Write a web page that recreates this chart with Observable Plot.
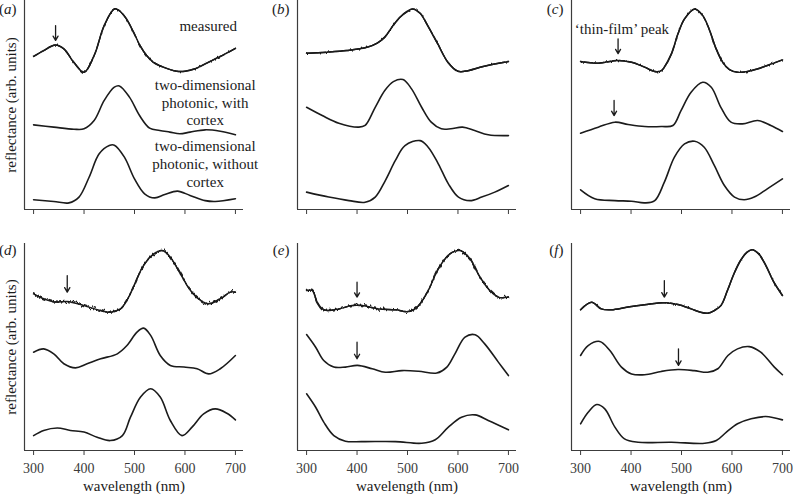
<!DOCTYPE html>
<html>
<head>
<meta charset="utf-8">
<script src="https://cdn.jsdelivr.net/npm/d3@7"></script>
<script src="https://cdn.jsdelivr.net/npm/@observablehq/plot@0.6"></script>
<style>
  html, body { margin: 0; padding: 0; background: #fff; }
  #chart { position: relative; width: 793px; height: 495px; overflow: hidden; background: #fff; }
  #chart svg, #chart svg text, #chart svg tspan {
    font-family: "Liberation Serif", "Times New Roman", "DejaVu Serif", serif !important;
  }
</style>
</head>
<body>
<div id="chart"></div>
<script>
// ---------- shared axis data ----------
const xTicks = [300, 400, 500, 600, 700];
const xDomain = [282, 716];
const yTitle = "reflectance (arb. units)";
const xTitle = "wavelength (nm)";
const panelLetters = ["a", "b", "c", "d", "e", "f"];

// ---------- curves: [wavelength nm, reflectance arb. units] ----------
// (a)
const a_measured = [[300,74],[320,76.8],[343,79.5],[360,77.6],[380,71],[400,66.3],[420,74.4],[440,88.9],[460,96.9],[471,95.9],[484,92.1],[498,85.7],[511,79.2],[524,74.4],[537,71.2],[557,68.8],[584,66.8],[600,66.8],[620,68],[640,70.4],[660,72.8],[680,75.2],[700,77.9]];
const a_with = [[300,40.9],[340,39.8],[380,38.8],[400,39],[420,43],[440,52.7],[460,59.1],[470,59.7],[490,54.3],[510,45.4],[530,39.3],[550,38.2],[570,37.4],[590,36.6],[610,37.4],[640,38.5],[670,37.8],[700,36.1]];
const a_without = [[300,4.7],[340,3.9],[370,3.2],[390,6],[410,15.6],[430,26.9],[450,30.9],[460,31.1],[480,25.3],[500,14.8],[520,7.6],[540,5.6],[560,7.2],[585,8.9],[610,6.8],[640,4.3],[660,3.9],[700,5.2]];
// (b)
const b_measured = [[300,75.5],[340,76],[380,76.8],[420,78.4],[440,80.4],[455,83.3],[470,88.4],[485,92.9],[500,95.8],[510,96.9],[525,94.8],[540,88.9],[560,80],[580,71.2],[600,66.8],[620,67.1],[650,69.1],[700,71.5]];
const b_with = [[300,49.4],[331,45.4],[364,41.7],[403,39.8],[416,40.6],[436,49.4],[455,57.5],[472,61.8],[491,62.8],[508,58.3],[528,49.4],[547,42.2],[567,39],[586,39],[609,39.8],[633,38.2],[660,36.1],[700,35.7]];
const b_without = [[300,8.4],[344,6],[384,4.3],[416,3.5],[436,6],[456,14],[476,23.7],[495,30.9],[525,33.3],[541,30.1],[561,22.1],[581,12.4],[601,6],[624,4.3],[647,6],[673,8.4],[700,11.6]];
// (c)
const c_measured = [[300,71.5],[335,70.7],[374,72],[401,71.2],[427,68.8],[447,66.7],[460,67.1],[466,68.8],[480,75.2],[493,84.9],[506,92.1],[526,96.9],[542,93.7],[555,87],[568,78],[582,71],[595,67.6],[611,66.3],[638,67.1],[670,69.6],[700,72.3]];
const c_with = [[300,36.9],[335,39.8],[368,42.2],[394,41.1],[427,40.1],[460,40.1],[483,40.6],[499,47.8],[519,56.7],[542,61.5],[559,59.1],[578,49.4],[598,42.2],[621,41.4],[651,43],[677,40.6],[700,37.7]];
const c_without = [[300,9.5],[328,5.2],[368,4.3],[401,4],[427,3.2],[447,4.3],[466,13.2],[486,25.3],[506,31.7],[526,33],[545,30.1],[565,21.3],[585,11.6],[605,6],[624,4.7],[644,6],[670,10],[700,14.8]];
// (d)
const d_measured = [[300,75.7],[320,73.3],[344,71.7],[367,72],[400,70],[433,67.6],[452,66.8],[472,68.4],[485,72.5],[499,79.7],[518,89.4],[538,95],[555,96.6],[571,93.4],[591,85.3],[611,77.3],[631,72.5],[647,70.9],[670,73.3],[690,76.5],[700,76.5]];
const d_with = [[300,47.5],[320,49.1],[340,46.7],[360,41.9],[383,39.9],[406,41.9],[433,44.3],[466,46.7],[485,50.7],[505,57.2],[518,59.1],[532,55.6],[551,45.9],[571,41.1],[598,40.3],[624,39.5],[647,37],[670,39.5],[700,45.9]];
const d_without = [[300,7.2],[320,9.7],[347,10.9],[373,9.7],[400,8.9],[426,6.4],[452,4.8],[476,7.2],[492,16.1],[512,25.8],[532,29.8],[551,25.8],[571,14.5],[594,7.2],[614,11.3],[637,17.7],[660,20.1],[683,18],[700,14.8]];
// (e)
const e_measured = [[300,77.3],[311,77.3],[321,71.7],[331,68.4],[341,67.6],[364,68.4],[390,70],[410,70],[443,68.4],[476,68],[502,67.1],[522,70],[541,77.3],[561,87.8],[584,95],[604,96.6],[624,92.6],[640,85.3],[660,78.1],[680,74.1],[700,74.1]];
const e_with = [[300,56],[318,49.9],[334,43.5],[354,40.3],[377,40.3],[401,41.1],[430,39.5],[456,37.8],[489,38.6],[522,38.3],[558,37.4],[578,40.3],[594,46.7],[614,54.8],[634,55.9],[653,51.5],[680,42.7],[700,36.2]];
const e_without = [[300,27.4],[318,20.9],[334,13.7],[354,7.2],[377,4.5],[410,4.3],[476,4.3],[528,3.5],[555,5.2],[581,11.3],[607,16.1],[634,17.2],[660,14.5],[700,10]];
// (f)
const f_measured = [[300,68],[322,71.6],[341,68.4],[361,68],[394,69.3],[427,70.4],[466,71.4],[493,70.5],[519,68.4],[538,66.8],[552,66.3],[565,67.6],[578,70],[591,77.3],[604,85.4],[617,91.8],[630,95.8],[640,97],[653,95],[667,89.4],[683,81.3],[700,74.9]];
const f_with = [[300,45.9],[315,50.7],[338,52.7],[358,48.3],[381,40.3],[401,37],[427,36.6],[460,38.2],[493,39.1],[525,38.6],[552,37.8],[572,39.5],[592,45.9],[611,49.1],[634,50.2],[657,47.5],[684,40.3],[700,36.6]];
const f_without = [[300,12.9],[315,18.5],[332,22.2],[348,20.1],[368,11.3],[387,5.6],[414,4],[480,4],[546,3.5],[569,4.8],[589,8.9],[611,12.9],[638,15.3],[667,16.4],[700,14.8]];

// ---------- arrows: [wavelength, from, to] ----------
const a_arrows = [[343.6, 88.9, 81.7]];
const c_arrows = [[374.3, 82.5, 75.3], [366.4, 52.7, 45.4]];
const d_arrows = [[366.7, 84.5, 76.5]];
const e_arrows = [[400, 81.3, 74.1], [400, 52.3, 44.3]];
const f_arrows = [[466, 82.1, 74.1], [494, 49.1, 41.1]];

// ---------- annotations ----------
const a_notes = [
  {nm: 646, v: 86.5, text: "measured"},
  {nm: 640, v: 40.6, text: "two-dimensional\nphotonic, with\ncortex"},
  {nm: 640, v: 11.1, text: "two-dimensional\nphotonic, without\ncortex"}
];
const c_notes = [{nm: 382, v: 84.9, text: "\u2018thin-film\u2019 peak"}];

const panels = [
  {measured: a_measured, withC: a_with, withoutC: a_without, arrows: a_arrows, notes: a_notes, noise: 3},
  {measured: b_measured, withC: b_with, withoutC: b_without, arrows: [], notes: [], noise: 2.5},
  {measured: c_measured, withC: c_with, withoutC: c_without, arrows: c_arrows, notes: c_notes, noise: 2.5},
  {measured: d_measured, withC: d_with, withoutC: d_without, arrows: d_arrows, notes: [], noise: 7},
  {measured: e_measured, withC: e_with, withoutC: e_without, arrows: e_arrows, notes: [], noise: 6.5},
  {measured: f_measured, withC: f_with, withoutC: f_without, arrows: f_arrows, notes: [], noise: 2}
];

// ---------- styling / layout ----------
const FONT = "'Liberation Serif', 'Times New Roman', 'DejaVu Serif', serif";
const AX = "#3c3c3c";
const INK = "#1b1b1b";
const colLeft = [0, 273, 547];
const rowTop = [0, 230];

const chart = document.getElementById("chart");

panels.forEach((p, i) => {
  const col = i % 3, row = Math.floor(i / 3);
  const top = row === 0;
  const lineOpts = {x: d => d[0], y: d => d[1], curve: "catmull-rom", stroke: INK, strokeWidth: 1.6};
  const marks = [
    Plot.ruleX([xDomain[0]], {stroke: AX, strokeWidth: 1.2}),
    Plot.ruleY([0], {stroke: AX, strokeWidth: 1.2}),
    Plot.line(p.withC, lineOpts),
    Plot.line(p.withoutC, lineOpts),
    Plot.line(p.measured, {...lineOpts, strokeWidth: 1.5}),
    Plot.arrow(p.arrows, {x1: d => d[0], x2: d => d[0], y1: d => d[1], y2: d => d[2], stroke: INK, strokeWidth: 1.3, headLength: 6}),
    Plot.text([panelLetters[i]], {frameAnchor: "top-left", dx: -8, dy: top ? 13 : 11, textAnchor: "end", lineAnchor: "bottom", fontSize: 15, fill: INK}),
    Plot.text(p.notes, {x: "nm", y: "v", text: "text", textAnchor: "middle", lineAnchor: "bottom", lineHeight: 1.17, fontSize: 15, fill: INK})
  ];
  if (col === 0) marks.push(Plot.text([yTitle], {frameAnchor: "left", dx: -9, rotate: -90, textAnchor: "middle", lineAnchor: "bottom", fontSize: 15, fill: INK}));
  if (!top) marks.push(Plot.text([xTitle], {frameAnchor: "bottom", dy: 40, textAnchor: "middle", lineAnchor: "bottom", fontSize: 15, fill: INK}));

  const svg = Plot.plot({
    width: 250,
    height: top ? 230 : 265,
    marginLeft: 24,
    marginRight: 7,
    marginTop: top ? 0 : 13,
    marginBottom: top ? 21 : 45,
    style: {fontFamily: FONT, fontSize: "14px", color: AX, background: "transparent", overflow: "visible"},
    x: {domain: xDomain, ticks: xTicks, tickSize: 5, tickPadding: 8, tickFormat: top ? () => "" : d => String(d), label: null},
    y: {domain: [0, top ? 101 : 100], axis: null},
    marks
  });
  svg.style.position = "absolute";
  svg.style.left = colLeft[col] + "px";
  svg.style.top = rowTop[row] + "px";
  svg.style.maxWidth = "none";
  svg.setAttribute("font-family", FONT);

  // noise texture for the measured spectrum: vertical-only jitter merged with the line itself
  const fid = "noise" + i;
  const defs = d3.select(svg).insert("defs", ":first-child");
  const filt = defs.append("filter").attr("id", fid)
    .attr("x", "-5%").attr("y", "-15%").attr("width", "110%").attr("height", "130%");
  filt.append("feTurbulence").attr("type", "fractalNoise").attr("baseFrequency", "0.55 0.06")
    .attr("numOctaves", 2).attr("seed", 3 + i).attr("result", "n");
  filt.append("feColorMatrix").attr("in", "n").attr("type", "matrix")
    .attr("values", "0 0 0 0 0.5  0 1 0 0 0  0 0 1 0 0  0 0 0 0 1").attr("result", "m");
  filt.append("feDisplacementMap").attr("in", "SourceGraphic").attr("in2", "m")
    .attr("scale", p.noise).attr("xChannelSelector", "R").attr("yChannelSelector", "G").attr("result", "d");
  const merge = filt.append("feMerge");
  merge.append("feMergeNode").attr("in", "SourceGraphic");
  merge.append("feMergeNode").attr("in", "d");

  const lineGroups = svg.querySelectorAll('g[aria-label="line"]');
  if (lineGroups.length >= 3) lineGroups[2].setAttribute("filter", `url(#${fid})`);

  // panel label: upright parentheses, italic letter
  const textGroups = svg.querySelectorAll('g[aria-label="text"]');
  const t = textGroups.length ? textGroups[0].querySelector("text") : null;
  if (t) {
    const s = d3.select(t);
    s.text(null);
    s.append("tspan").text("(");
    s.append("tspan").attr("font-style", "italic").text(panelLetters[i]);
    s.append("tspan").text(")");
  }
  chart.appendChild(svg);
});
</script>
</body>
</html>
